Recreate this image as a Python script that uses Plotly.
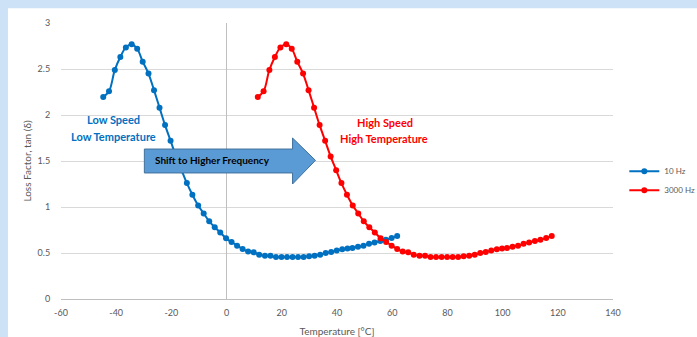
import plotly.graph_objects as go

# ---- data ----
temp_10hz = [-44.7, -42.6, -40.5, -38.5, -36.5, -34.4, -32.4, -30.4, -28.3, -26.3,
             -24.3, -22.3, -20.3, -18.3, -16.3, -14.4, -12.4, -10.3, -8.3, -6.3,
             -4.3, -2.3, -0.2, 1.8, 3.8, 5.8, 7.8, 9.8, 11.8, 13.9,
             15.9, 17.9, 19.9, 21.9, 23.9, 25.9, 27.9, 29.9, 31.9, 33.9,
             35.9, 37.9, 39.9, 41.9, 43.8, 45.6, 47.6, 49.6, 51.6, 53.6,
             55.7, 57.7, 59.8, 61.8]
loss_10hz = [2.196, 2.257, 2.49, 2.63, 2.735, 2.77, 2.72, 2.58, 2.45, 2.27,
             2.08, 1.89, 1.72, 1.55, 1.40, 1.26, 1.134, 1.017, 0.93, 0.844,
             0.78, 0.724, 0.659, 0.62, 0.58, 0.543, 0.517, 0.507, 0.482, 0.47,
             0.47, 0.457, 0.457, 0.457, 0.457, 0.457, 0.457, 0.464, 0.47, 0.482,
             0.50, 0.51, 0.526, 0.54, 0.55, 0.555, 0.568, 0.58, 0.60, 0.615,
             0.63, 0.645, 0.663, 0.685]

temp_3000hz = [11.3, 13.4, 15.5, 17.5, 19.5, 21.6, 23.6, 25.6, 27.7, 29.7,
               31.7, 33.7, 35.7, 37.7, 39.7, 41.6, 43.6, 45.7, 47.7, 49.7,
               51.7, 53.7, 55.8, 57.8, 59.8, 61.8, 63.8, 65.8, 67.8, 69.9,
               71.9, 73.9, 75.9, 77.9, 79.9, 81.9, 83.9, 85.9, 87.9, 89.9,
               91.9, 93.9, 95.9, 97.9, 99.8, 101.6, 103.6, 105.6, 107.6, 109.6,
               111.7, 113.7, 115.8, 117.8]
loss_3000hz = [2.196, 2.257, 2.49, 2.63, 2.735, 2.77, 2.72, 2.58, 2.45, 2.27,
               2.08, 1.89, 1.72, 1.55, 1.40, 1.26, 1.134, 1.017, 0.93, 0.844,
               0.78, 0.724, 0.659, 0.62, 0.58, 0.543, 0.517, 0.507, 0.482, 0.47,
               0.47, 0.457, 0.457, 0.457, 0.457, 0.457, 0.457, 0.464, 0.47, 0.482,
               0.50, 0.51, 0.526, 0.54, 0.55, 0.555, 0.568, 0.58, 0.60, 0.615,
               0.63, 0.645, 0.663, 0.685]

x_ticks = [-60, -40, -20, 0, 20, 40, 60, 80, 100, 120, 140]
y_ticks = [0, 0.5, 1, 1.5, 2, 2.5, 3]

FONT = "Lato"
GRAY = "#595959"
BLUE = "#0070c0"
RED = "#ff0000"

fig = go.Figure()
fig.add_trace(go.Scatter(x=temp_10hz, y=loss_10hz, name="10 Hz", mode="lines+markers",
                         line=dict(color=BLUE, width=2, shape="spline", smoothing=1),
                         marker=dict(color=BLUE, size=6)))
fig.add_trace(go.Scatter(x=temp_3000hz, y=loss_3000hz, name="3000 Hz", mode="lines+markers",
                         line=dict(color=RED, width=2, shape="spline", smoothing=1),
                         marker=dict(color=RED, size=6)))

band = "#cde2f6"
shapes = [
    # light-blue frame bands (top and left)
    dict(type="rect", xref="paper", yref="paper", x0=-0.2, x1=1.3, y0=1.053, y1=1.2,
         fillcolor=band, line=dict(width=0), layer="below"),
    dict(type="rect", xref="paper", yref="paper", x0=-0.2, x1=-0.0961, y0=-0.3, y1=1.2,
         fillcolor=band, line=dict(width=0), layer="below"),
    # block arrow
    dict(type="path", xref="x", yref="y", layer="above",
         path="M -29.8,1.37 L -29.8,1.63 L 23.9,1.63 L 23.9,1.75 L 32.2,1.507 L 23.9,1.25 L 23.9,1.37 Z",
         fillcolor="#5b9bd5", line=dict(color="#41719c", width=1)),
]

annotations = [
    dict(x=-5.1, y=1.514, xref="x", yref="y", text="<b>Shift to Higher Frequency</b>",
         showarrow=False, font=dict(family=FONT, size=10, color="black")),
    dict(x=-41.1, y=1.949, xref="x", yref="y", text="<b>Low Speed</b>",
         showarrow=False, font=dict(family=FONT, size=11, color=BLUE)),
    dict(x=-41.1, y=1.764, xref="x", yref="y", text="<b>Low Temperature</b>",
         showarrow=False, font=dict(family=FONT, size=11, color=BLUE)),
    dict(x=57.5, y=1.916, xref="x", yref="y", text="<b>High Speed</b>",
         showarrow=False, font=dict(family=FONT, size=11, color=RED)),
    dict(x=57.1, y=1.742, xref="x", yref="y", text="<b>High Temperature</b>",
         showarrow=False, font=dict(family=FONT, size=11, color=RED)),
]

fig.update_layout(
    width=697, height=337,
    margin=dict(l=61, r=84, t=23, b=38, autoexpand=False),
    paper_bgcolor="white", plot_bgcolor="white",
    font=dict(family=FONT, size=9, color=GRAY),
    shapes=shapes, annotations=annotations,
    showlegend=True,
    legend=dict(x=1.0205, y=0.515, xanchor="left", yanchor="top",
                font=dict(family=FONT, size=8, color=GRAY),
                bgcolor="rgba(0,0,0,0)", itemwidth=30, tracegroupgap=0),
    xaxis=dict(range=[-60, 140], tickvals=x_ticks, ticktext=[str(v) for v in x_ticks],
               showgrid=False, zeroline=True, zerolinecolor="#bfbfbf", zerolinewidth=1,
               showline=False, ticks="outside", ticklen=5, tickcolor="rgba(0,0,0,0)",
               tickfont=dict(family=FONT, size=9, color=GRAY),
               title=dict(text="Temperature [°C]", standoff=11,
                          font=dict(family=FONT, size=10, color=GRAY)),
               fixedrange=True),
    yaxis=dict(range=[0, 3], tickvals=y_ticks, ticktext=["0", "0.5", "1", "1.5", "2", "2.5", "3"],
               showgrid=True, gridcolor="#d9d9d9", gridwidth=1,
               zeroline=True, zerolinecolor="#bfbfbf", zerolinewidth=1,
               showline=False, ticks="outside", ticklen=8, tickcolor="rgba(0,0,0,0)",
               tickfont=dict(family=FONT, size=9, color=GRAY),
               title=dict(text="Loss Factor, tan (δ)", standoff=4,
                          font=dict(family=FONT, size=10, color=GRAY)),
               fixedrange=True),
)

fig.write_html("out.html")
